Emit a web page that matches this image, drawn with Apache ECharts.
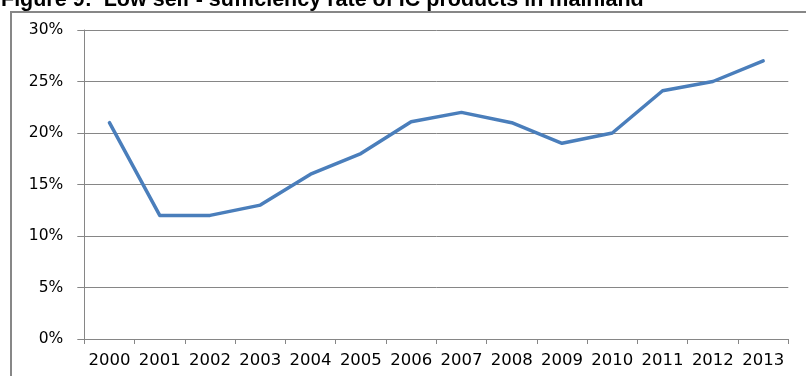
<!DOCTYPE html>
<html>
<head>
<meta charset="utf-8">
<script src="https://cdn.jsdelivr.net/npm/echarts@6/dist/echarts.min.js"></script>
<style>
html,body{margin:0;padding:0;background:#fff;}
#chart{width:806px;height:376px;}
</style>
</head>
<body>
<div id="chart"></div>
<script>
const titleText = 'Figure 9:  Low self - sufficiency rate of IC products in mainland';
const years = ['2000','2001','2002','2003','2004','2005','2006','2007','2008','2009','2010','2011','2012','2013'];
const selfSufficiency = [21, 12, 12, 13, 16, 18, 21.1, 22, 21, 19, 20, 24.1, 25, 27];
const yTicks = {min: 0, max: 30, interval: 5};

const chart = echarts.init(document.getElementById('chart'), null, {renderer: 'canvas'});
chart.setOption({
  animation: false,
  backgroundColor: '#fff',
  title: {
    text: titleText,
    left: 1,
    top: -10.5,
    padding: 0,
    textStyle: {fontFamily: 'Liberation Sans', fontWeight: 'bold', fontSize: 21.5, color: '#000'}
  },
  graphic: [{
    type: 'rect',
    shape: {x: 11, y: 12, width: 900, height: 500},
    style: {fill: 'none', stroke: '#878787', lineWidth: 2},
    z: -1
  }],
  grid: {left: 84.3, right: 17.7, top: 30, bottom: 37, containLabel: false},
  xAxis: {
    type: 'category',
    data: years,
    boundaryGap: true,
    axisLine: {show: true, lineStyle: {color: '#868686', width: 1}},
    axisTick: {show: true, length: 5, interval: 0, lineStyle: {color: '#868686'}},
    axisLabel: {interval: 0, margin: 13, fontFamily: 'DejaVu Sans', fontSize: 16.5, color: '#000'},
    splitLine: {show: false}
  },
  yAxis: {
    type: 'value',
    min: yTicks.min,
    max: yTicks.max,
    interval: yTicks.interval,
    axisLine: {show: true, lineStyle: {color: '#868686', width: 1}},
    axisTick: {show: true, inside: false, length: 7, lineStyle: {color: '#868686'}},
    axisLabel: {margin: 21, formatter: '{value}%', fontFamily: 'DejaVu Sans', fontSize: 15.5, color: '#000'},
    splitLine: {show: true, lineStyle: {color: '#868686', width: 1}}
  },
  series: [{
    type: 'line',
    data: selfSufficiency,
    smooth: false,
    symbol: 'none',
    lineStyle: {color: '#4a7ebb', width: 3.5, cap: 'round', join: 'round'},
    itemStyle: {color: '#4a7ebb'}
  }]
});
</script>
</body>
</html>
